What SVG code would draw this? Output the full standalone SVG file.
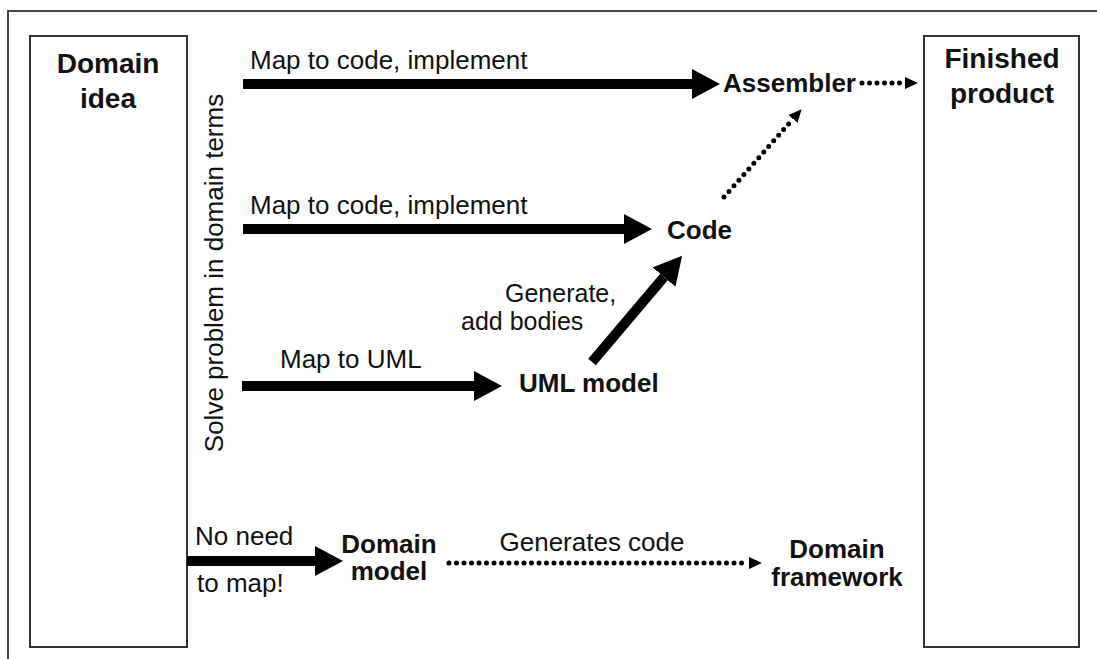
<svg xmlns="http://www.w3.org/2000/svg" width="1097" height="659" viewBox="0 0 1097 659">
<style>
.t{font-family:"Liberation Sans",Arial,sans-serif;font-size:26px;fill:#111}
.s{font-family:"Liberation Sans",Arial,sans-serif;font-size:25px;fill:#111}
.b{font-family:"Liberation Sans",Arial,sans-serif;font-size:26px;font-weight:bold;fill:#111}
.h{font-family:"Liberation Sans",Arial,sans-serif;font-size:28px;font-weight:bold;fill:#111}
.box{fill:#fff;stroke:#333;stroke-width:2}
.thick{stroke:#000;stroke-width:10;fill:none;marker-end:url(#big)}
.dot{stroke:#000;stroke-width:5;stroke-linecap:round;stroke-dasharray:0 7.5;fill:none;marker-end:url(#small)}
</style>
<defs>
<marker id="big" markerUnits="userSpaceOnUse" markerWidth="28" markerHeight="30" refX="0" refY="15" orient="auto">
<path d="M0,0 L28,15 L0,30 z" fill="#000"/>
</marker>
<marker id="small" markerUnits="userSpaceOnUse" markerWidth="14" markerHeight="14" refX="0" refY="7" orient="auto">
<path d="M0,1 L13,7 L0,13 z" fill="#000"/>
</marker>
</defs>
<rect width="1097" height="659" fill="#fff"/>
<path d="M8,659 V11 H1097" fill="none" stroke="#444" stroke-width="2"/>
<g id="domain-idea">
<rect class="box" x="30" y="36" width="157" height="611"/>
<text class="h" x="108" y="73" text-anchor="middle">Domain</text>
<text class="h" x="108" y="108" text-anchor="middle">idea</text>
</g>
<g id="finished-product">
<rect class="box" x="924" y="36" width="155" height="611"/>
<text class="h" x="1002" y="68" text-anchor="middle">Finished</text>
<text class="h" x="1002" y="103" text-anchor="middle">product</text>
</g>
<g id="solve-label">
<text class="t" transform="translate(223,273) rotate(-90)" text-anchor="middle">Solve problem in domain terms</text>
</g>
<g id="assembler"><text class="b" x="723" y="92">Assembler</text></g>
<g id="code"><text class="b" x="667" y="239">Code</text></g>
<g id="uml-model"><text class="b" x="519" y="392">UML model</text></g>
<g id="domain-model">
<text class="b" x="389" y="553" text-anchor="middle">Domain</text>
<text class="b" x="389" y="580" text-anchor="middle">model</text>
</g>
<g id="domain-framework">
<text class="b" x="837" y="558" text-anchor="middle">Domain</text>
<text class="b" x="837" y="586" text-anchor="middle">framework</text>
</g>
<g id="connectors">
<line class="thick" x1="243" y1="84" x2="692" y2="84"/>
<line class="thick" x1="243" y1="229" x2="624" y2="229"/>
<line class="thick" x1="242" y1="386" x2="474" y2="386"/>
<line class="thick" x1="187" y1="561" x2="315" y2="561"/>
<line class="thick" x1="592" y1="362" x2="664" y2="277"/>
<line class="dot" x1="862" y1="83" x2="905" y2="83"/>
<line class="dot" x1="724" y1="197" x2="793" y2="119"/>
<line class="dot" x1="449" y1="563" x2="749" y2="563"/>
<text class="t" x="250" y="69">Map to code, implement</text>
<text class="t" x="250" y="214">Map to code, implement</text>
<text class="t" x="280" y="368">Map to UML</text>
<text class="s" x="505" y="302">Generate,</text>
<text class="s" x="461" y="330">add bodies</text>
<text class="t" x="195" y="545">No need</text>
<text class="t" x="197" y="592">to map!</text>
<text class="t" x="592" y="551" text-anchor="middle">Generates code</text>
</g>
</svg>
